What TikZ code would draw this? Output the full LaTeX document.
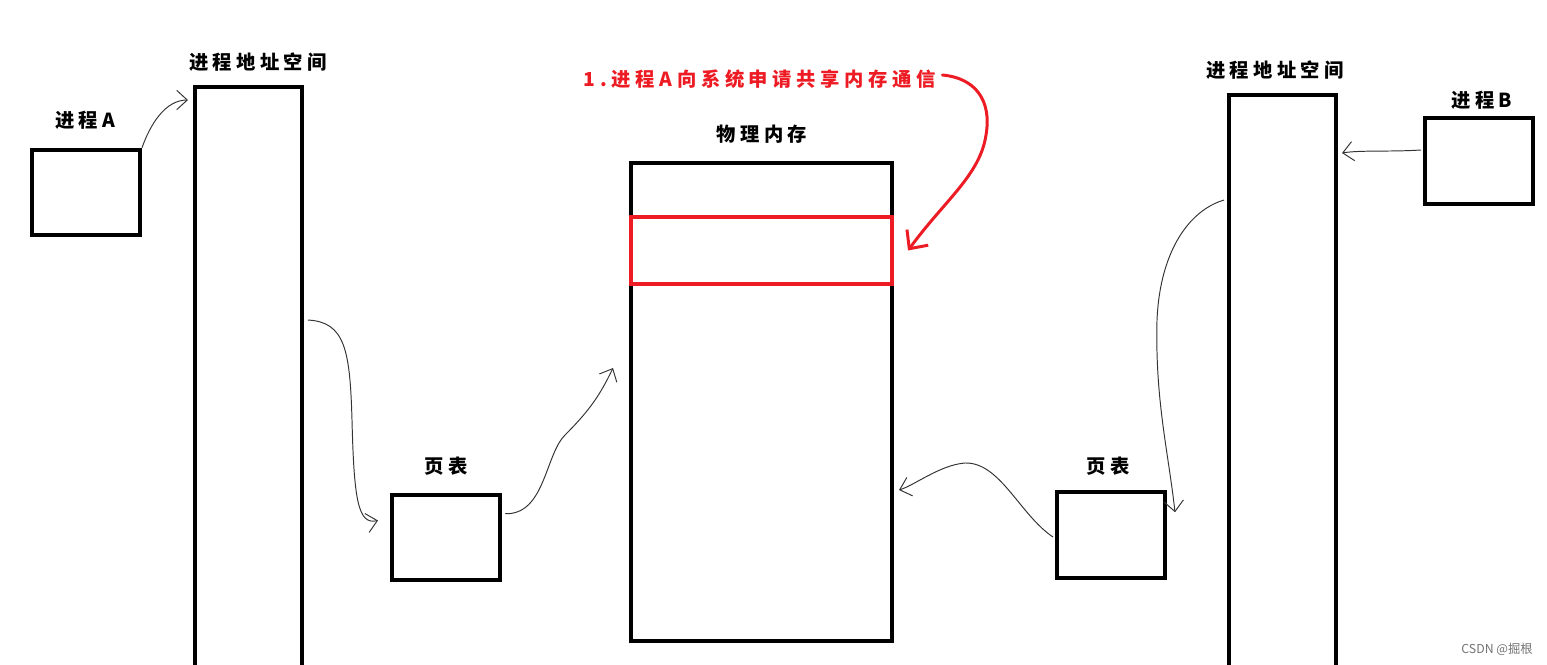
\documentclass[tikz,border=0pt]{standalone}
\usepackage{fontspec}
\usepackage{xcolor}
\usepackage{tikz}
\usetikzlibrary{calc,arrows.meta,positioning}
\newfontfamily\cjkfont[LetterSpace=22]{Noto Sans CJK SC}
\newfontfamily\reqfont[LetterSpace=24]{Noto Sans CJK SC}
\newfontfamily\markfont{Noto Sans CJK SC}
\definecolor{reqRed}{RGB}{237,28,36}
\colorlet{linkGray}{black!80}

\begin{document}
\begin{tikzpicture}[x=0.02cm, y=-0.02cm,
    box/.style={draw, line width=2.3pt, inner sep=0pt, minimum width=2.16cm, minimum height=1.71cm},
    tall/.style={draw, line width=2.3pt, inner sep=0pt, minimum width=2.14cm},
    lbl/.style={font=\cjkfont\bfseries\fontsize{11}{13}\selectfont, inner sep=0pt},
    link/.style={draw=linkGray, line width=0.55pt, -{Straight Barb[length=6pt, width=11pt]}},
    reqlink/.style={draw=reqRed, line width=1.7pt, line cap=round, -{Straight Barb[length=8pt, width=15pt]}}]
      \useasboundingbox (0,0) rectangle (1547,665);
      \clip (0,0) rectangle (1547,665);

      % --- process A: process, address space, page table ---
      \node[box] (procA) at (86,192.5) {};
      \node[lbl] (procAlbl) at (85,120) {进程A};
      \node[tall, minimum height=12.46cm] (addrA) at (248.5,398.5) {};
      \node[lbl] (addrAlbl) at (258,62) {进程地址空间};
      \node[box] (pageA) at (446,537.5) {};
      \node[lbl] (pageAlbl) at (446,466) {页表};

      % --- physical memory with the shared block ---
      \node[draw, line width=2.3pt, inner sep=0pt, minimum width=5.22cm, minimum height=9.56cm] (phys) at (761.5,402) {};
      \node[lbl] (physlbl) at (762,134) {物理内存};
      \node[draw=reqRed, line width=2.3pt, inner sep=0pt, minimum width=5.22cm, minimum height=1.34cm] (shared) at (761.5,250.5) {};

      % --- process B: process, address space, page table ---
      \node[box] (procB) at (1479,161) {};
      \node[lbl] (procBlbl) at (1482,100) {进程B};
      \node[tall, minimum height=12.3cm] (addrB) at (1282.5,402.5) {};
      \node[lbl] (addrBlbl) at (1275,70) {进程地址空间};
      \node[box] (pageB) at (1111,535) {};
      \node[lbl] (pageBlbl) at (1108,466) {页表};

      % request note (red)
      \node[lbl, font=\reqfont\bfseries\fontsize{11}{13}\selectfont, text=reqRed] (req) at (760,79) {1.进程A向系统申请共享内存通信};

      % watermark
      \node[font=\markfont\fontsize{7}{8}\selectfont, text=black!55, inner sep=0pt] (mark) at (1497,649) {CSDN @掘根};

      % A side mappings
      \draw[link] (procA.north east) .. controls (150,125) and (165,100) .. ($(addrA.north west)+(-5,15)$);
      \draw[link] ($(addrA.north east)+(4,235)$) .. controls (345,322) and (350,350) .. (352,420)
        .. controls (354,500) and (358,525) .. ($(pageA.west)+(-12,-17)$);
      \draw[link] ($(pageA.north east)+(3,21)$) .. controls (545,515) and (545,455) .. (565,435)
        .. controls (590,410) and (600,395) .. ($(phys.west)+(-16,-34)$);

      % B side mappings
      \draw[link] ($(procB.west)+(-2,-11)$) .. controls (1390,152) and (1360,150) .. ($(addrB.north east)+(4,60)$);
      \draw[link] ($(addrB.north west)+(-3,107)$) .. controls (1190,210) and (1160,250) .. (1157,320)
        .. controls (1155,400) and (1168,450) .. ($(pageB.north east)+(8,22)$);
      \draw[link] ($(pageB.west)+(-2,2)$) .. controls (1020,515) and (1000,462) .. (965,463)
        .. controls (940,465) and (915,485) .. ($(phys.east)+(5,88)$);

      % request -> shared block
      \draw[reqlink] ($(req.east)+(6,-4)$) .. controls (975,78) and (992,100) .. (986,135)
        .. controls (980,175) and (945,200) .. ($(shared.east)+(14,0)$);
    \end{tikzpicture}
\end{document}
